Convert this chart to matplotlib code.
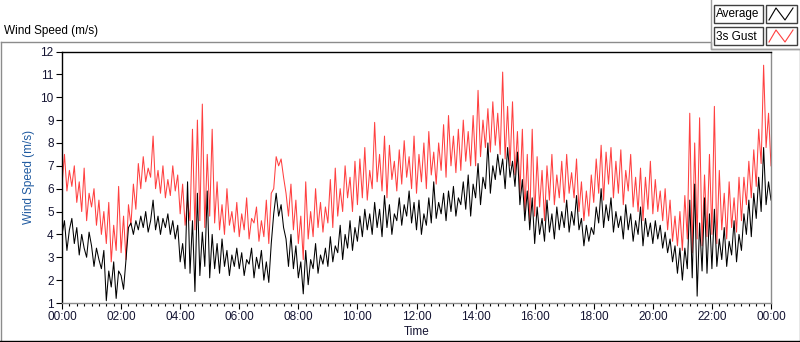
import matplotlib
matplotlib.use("Agg")
import matplotlib.pyplot as plt
import numpy as np
from matplotlib.patches import Rectangle
from matplotlib.lines import Line2D

plt.rcParams['font.family'] = ['Liberation Sans', 'DejaVu Sans']

# 5-minute samples, 00:00 .. 24:00 (12 values per hour + final point)
gust = [
    6.2, 7.5, 5.9, 6.8, 6.1, 7.0, 5.4, 6.3, 5.0, 6.9, 4.6, 5.8,
    5.2, 6.0, 4.4, 5.5, 4.0, 5.0, 3.6, 5.4, 2.8, 4.4, 3.3, 6.1,
    3.2, 4.8, 2.9, 5.3, 4.4, 6.2, 5.1, 7.1, 6.0, 7.4, 6.3, 6.9,
    6.5, 8.3, 6.0, 6.8, 5.8, 7.0, 5.6, 6.4, 5.7, 7.0, 5.9, 6.6,
    4.9, 6.2, 4.4, 5.5, 4.6, 8.6, 4.2, 9.0, 4.6, 9.7, 4.3, 7.5,
    4.8, 8.6, 4.5, 6.3, 4.2, 5.3, 4.0, 6.0, 4.4, 5.0, 4.1, 5.4,
    3.9, 4.9, 4.2, 5.6, 3.8, 4.7, 4.5, 5.2, 3.7, 4.6, 3.9, 5.5,
    3.6, 5.8, 6.0, 7.4, 7.0, 7.3, 6.5, 5.8, 4.8, 6.2, 4.2, 5.5,
    3.6, 4.8, 2.9, 6.3, 3.8, 5.0, 3.9, 6.0, 4.3, 5.4, 4.1, 5.2,
    4.5, 6.4, 4.3, 6.9, 4.8, 6.0, 5.0, 7.0, 5.6, 6.5, 5.0, 7.2,
    5.3, 7.3, 5.6, 7.8, 5.5, 6.8, 6.0, 8.9, 6.3, 7.5, 5.9, 8.3,
    5.6, 7.9, 6.4, 7.2, 5.9, 7.7, 6.2, 8.1, 6.5, 7.4, 6.0, 8.3,
    5.8, 7.5, 6.3, 8.0, 6.0, 8.5, 6.6, 7.6, 6.2, 8.0, 6.8, 8.8,
    6.5, 9.2, 7.0, 8.3, 6.7, 8.6, 6.8, 9.0, 7.2, 8.5, 7.0, 9.2,
    7.0, 10.3, 7.4, 9.0, 7.8, 9.5, 7.6, 9.8, 7.9, 9.3, 7.5, 11.1,
    7.3, 9.6, 7.0, 9.8, 6.6, 8.5, 5.8, 8.6, 5.0, 7.5, 4.6, 8.6,
    4.8, 7.4, 5.2, 6.8, 4.6, 7.0, 5.5, 7.5, 5.3, 6.6, 5.6, 7.2,
    5.4, 7.5, 5.8, 6.7, 5.6, 7.3, 5.0, 6.3, 4.6, 5.9, 4.8, 6.6,
    5.4, 7.3, 5.8, 7.9, 5.5, 7.6, 6.2, 7.8, 5.6, 7.2, 5.8, 7.7,
    5.3, 6.8, 5.9, 7.5, 5.2, 6.5, 5.0, 6.9, 4.6, 6.5, 5.1, 7.2,
    4.9, 6.4, 5.0, 5.9, 4.6, 6.0, 4.2, 5.5, 3.7, 4.8, 3.5, 5.0,
    3.3, 5.7, 3.8, 9.3, 3.2, 8.0, 3.8, 9.1, 3.5, 6.6, 3.9, 7.5,
    4.0, 9.6, 3.6, 6.8, 4.2, 5.8, 3.8, 6.3, 4.3, 5.6, 4.1, 6.5,
    4.6, 6.5, 5.3, 7.2, 5.6, 7.7, 6.1, 8.6, 7.1, 11.4, 7.8, 9.3,
    7.0,
]

average = [
    4.0, 4.6, 3.3, 4.2, 4.7, 3.6, 4.3, 3.1, 4.0, 3.4, 3.0, 4.1,
    3.5, 2.6, 3.4, 2.9, 2.5, 3.3, 1.1, 2.4, 1.7, 2.8, 1.2, 2.4,
    2.2, 1.6, 2.9, 4.3, 4.5, 4.0, 4.6, 4.2, 4.8, 4.3, 5.0, 4.1,
    4.6, 5.5, 4.2, 4.8, 4.0, 4.7, 4.3, 4.9, 4.0, 4.6, 3.8, 4.4,
    2.8, 3.6, 2.5, 6.3, 2.3, 4.6, 1.5, 5.8, 2.2, 4.1, 2.6, 5.9,
    2.1, 4.0, 2.5, 3.6, 2.3, 3.8, 2.6, 3.3, 2.2, 3.1, 2.6, 3.4,
    2.5, 3.2, 2.2, 2.9, 2.7, 3.4, 2.1, 3.0, 2.5, 3.3, 2.0, 2.8,
    1.9, 3.6, 4.9, 5.8, 4.8, 5.3, 4.3, 3.8, 2.6, 4.0, 2.5, 3.5,
    2.1, 2.8, 1.4, 3.3, 1.8, 2.9, 2.5, 3.6, 2.3, 3.1, 2.7, 3.4,
    2.6, 3.9, 2.8, 3.5, 3.2, 4.4, 2.9, 4.0, 3.4, 4.6, 3.3, 4.3,
    3.7, 4.8, 3.9, 5.1, 4.2, 4.9, 4.0, 5.4, 4.3, 5.1, 3.9, 5.7,
    4.3, 5.3, 4.0, 4.9, 4.6, 5.6, 4.4, 5.3, 4.8, 5.9, 4.5, 5.4,
    4.2, 5.5, 4.0, 4.9, 4.4, 5.6, 4.5, 6.3, 4.7, 5.4, 4.9, 5.8,
    4.6, 5.9, 5.0, 6.1, 4.8, 5.6, 5.3, 6.3, 5.1, 6.6, 4.8, 6.2,
    5.6, 7.1, 5.3, 6.5, 6.0, 8.0, 5.8, 7.0, 6.4, 7.5, 6.6, 7.3,
    6.0, 7.8, 6.5, 7.2, 6.1, 7.6, 5.3, 6.4, 4.6, 5.9, 4.2, 5.6,
    3.6, 5.2, 4.0, 4.7, 3.7, 5.5, 4.1, 4.9, 3.8, 5.2, 4.2, 5.0,
    4.3, 5.5, 4.1, 5.0, 4.4, 5.7, 4.2, 4.7, 3.5, 4.4, 3.7, 4.3,
    4.0, 5.2, 4.5, 6.0, 4.3, 5.3, 4.6, 5.6, 4.1, 5.0, 4.3, 4.8,
    3.8, 5.3, 4.2, 4.9, 3.7, 4.6, 4.0, 5.2, 3.5, 4.7, 3.9, 4.5,
    3.6, 4.6, 3.8, 4.4, 3.4, 4.1, 3.2, 3.8, 2.8, 3.5, 2.3, 3.4,
    2.0, 3.4, 2.5, 5.5, 2.1, 6.2, 1.3, 4.5, 2.4, 5.6, 2.3, 4.9,
    2.5, 5.1, 2.6, 3.8, 2.9, 4.3, 2.6, 3.7, 3.1, 4.6, 2.8, 4.0,
    3.3, 4.9, 4.0, 5.5, 3.9, 5.8, 4.7, 6.5, 5.0, 7.8, 5.3, 6.3,
    5.5,
]

hours = np.arange(len(gust)) * 5 / 60.0
tick_labels = ["00:00", "02:00", "04:00", "06:00", "08:00", "10:00", "12:00",
               "14:00", "16:00", "18:00", "20:00", "22:00", "00:00"]

W, H = 800, 342
fig = plt.figure(figsize=(W / 100, H / 100), dpi=100)

# frame / legend decorations in pixel coords
deco = fig.add_axes([0, 0, 1, 1])
deco.set_xlim(0, W)
deco.set_ylim(H, 0)
deco.axis("off")
deco.add_line(Line2D([0.5, 711, 711, 799.5, 799.5], [42, 42, 48.5, 48.5, 340], color="#8c8c8c", lw=1))
deco.add_line(Line2D([0.5, 0.5], [42, 341], color="#8c8c8c", lw=1))
deco.add_line(Line2D([0, 800], [340.5, 340.5], color="#000000", lw=1))
deco.add_line(Line2D([711, 711, 799.5], [0, 48.5, 48.5], color="#a0a0a0", lw=1))

for y0, label, col in [(5, "Average", "black"), (27, "3s Gust", "#ff4040")]:
    deco.add_patch(Rectangle((714, y0), 49, 18, facecolor="white", edgecolor="#404040", lw=1))
    deco.add_patch(Rectangle((766, y0), 31, 18, facecolor="white", edgecolor="#404040", lw=1))
    deco.text(716, y0 + 9.5, label, fontsize=8.5, va="center", ha="left", color="#000000")
    deco.add_line(Line2D([769, 776, 785, 793], [y0 + 15, y0 + 3, y0 + 15, y0 + 3], color=col, lw=0.8))

deco.text(4, 31, "Wind Speed (m/s)", fontsize=8.5, va="center", ha="left", color="#000000")

ax = fig.add_axes([62 / W, 39 / H, 709 / W, (303 - 51.5) / H])
ax.plot(hours, gust, color="#ff4040", lw=0.75)
ax.plot(hours, average, color="#000000", lw=0.75)

ax.set_xlim(0, 24)
ax.set_ylim(1, 12)
ax.set_xticks(np.arange(0, 25, 2))
ax.set_xticklabels(tick_labels)
ax.set_xticks(np.arange(0, 24.01, 0.25), minor=True)
ax.set_yticks(np.arange(1, 13, 1))
ax.tick_params(axis="both", which="major", length=4, width=0.8, pad=2, labelsize=8.5,
               color="#000000", labelcolor="#141432")
ax.tick_params(axis="x", which="minor", length=2.5, width=0.8)
ax.spines["top"].set_color("#000000")
ax.spines["left"].set_color("#000000")
ax.spines["right"].set_color("#8c8c8c")
ax.spines["bottom"].set_color("#8c8c8c")
for s in ax.spines.values():
    s.set_linewidth(1)

ax.set_xlabel("Time", fontsize=8.5, labelpad=2, color="#141432")
ax.set_ylabel("Wind Speed (m/s)", fontsize=8.5, color="#1f5aa0", labelpad=4)

fig.savefig("out.png", dpi=100)
